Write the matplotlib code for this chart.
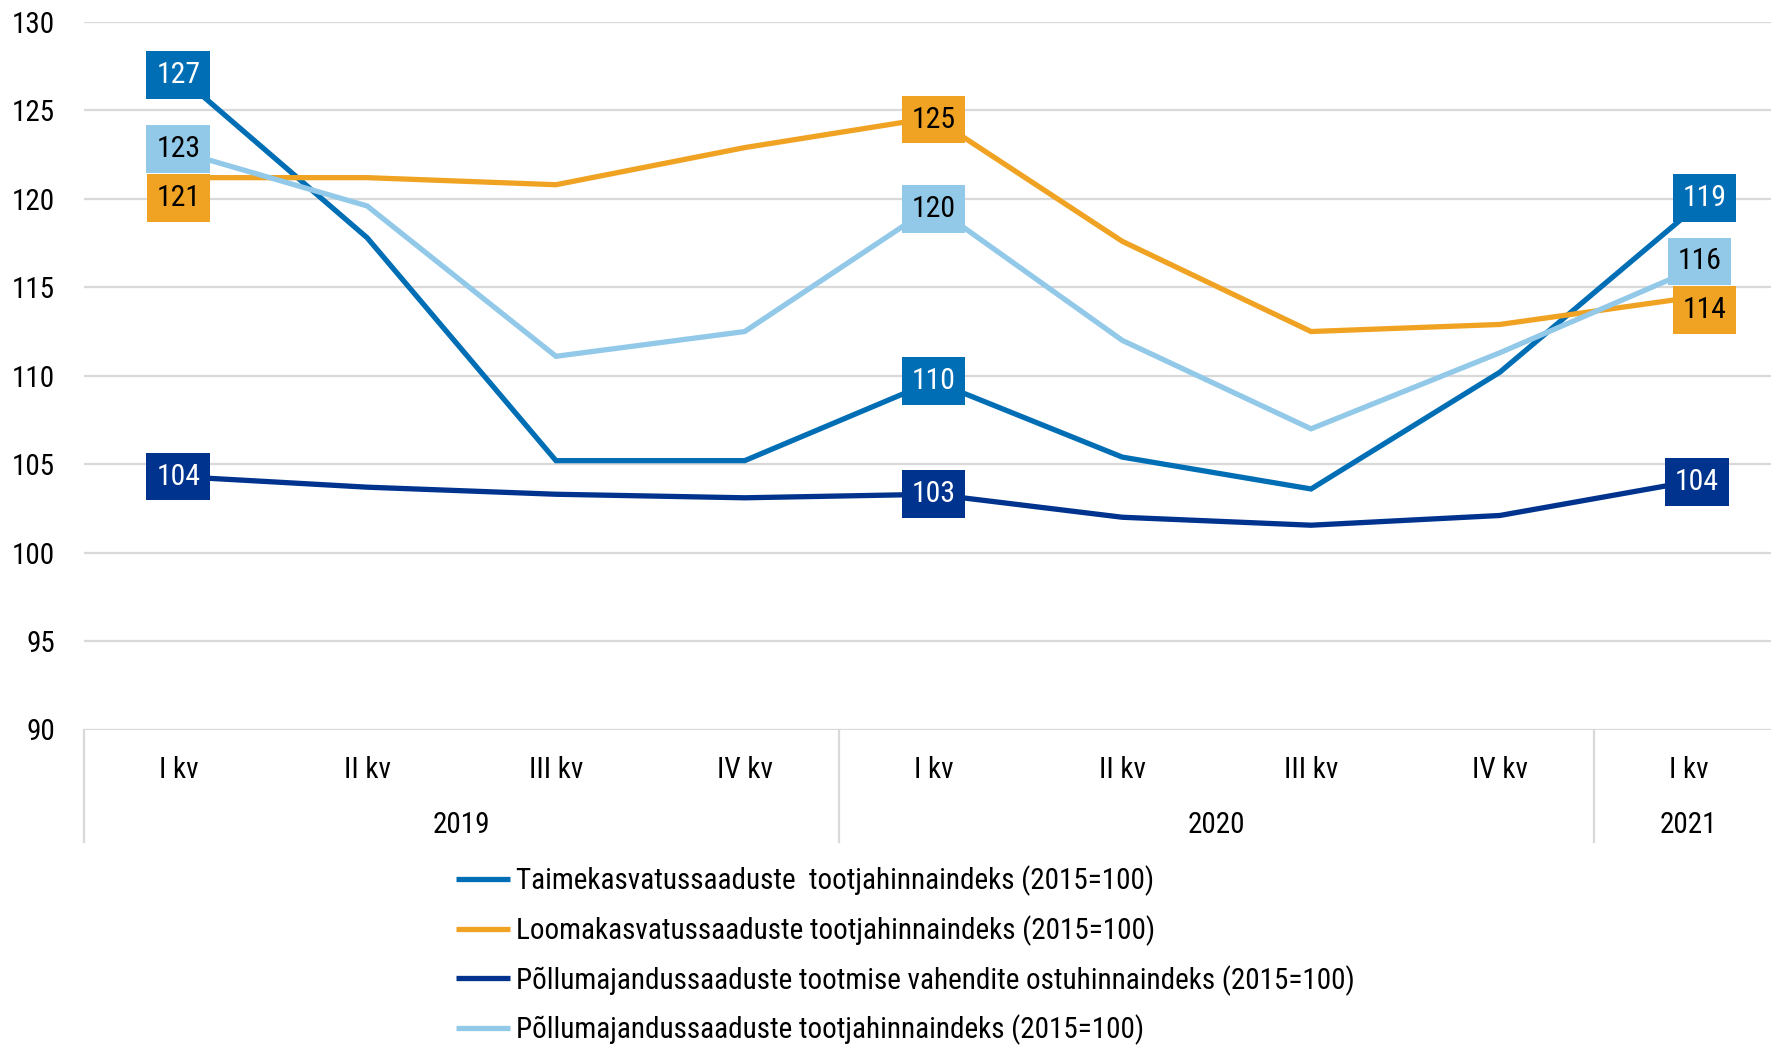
import matplotlib
matplotlib.use("Agg")
import matplotlib.pyplot as plt
import matplotlib.transforms as mtransforms

plt.rcParams['font.family'] = ['Roboto Condensed', 'Roboto', 'DejaVu Sans']

quarters = ["I kv", "II kv", "III kv", "IV kv", "I kv", "II kv", "III kv", "IV kv", "I kv"]
years = ["2019", "2020", "2021"]
year_spans = [(0, 3), (4, 7), (8, 8)]

taime = [127.0, 117.8, 105.2, 105.2, 109.7, 105.4, 103.6, 110.2, 119.2]
looma = [121.2, 121.2, 120.8, 122.9, 124.6, 117.6, 112.5, 112.9, 114.4]
vahendid = [104.3, 103.7, 103.3, 103.1, 103.3, 102.0, 101.55, 102.1, 104.0]
toodang = [122.7, 119.6, 111.1, 112.5, 119.6, 112.0, 107.0, 111.3, 115.9]

series_names = [
    "Taimekasvatussaaduste  tootjahinnaindeks (2015=100)",
    "Loomakasvatussaaduste tootjahinnaindeks (2015=100)",
    "Põllumajandussaaduste tootmise vahendite ostuhinnaindeks (2015=100)",
    "Põllumajandussaaduste tootjahinnaindeks (2015=100)",
]
series = [taime, looma, vahendid, toodang]
colors = ["#006EB5", "#F0A323", "#00338D", "#92C9E8"]
text_colors = ["white", "black", "white", "black"]

# labelled point indices for each series, with pixel offsets (style)
label_idx = [[0, 4, 8], [0, 4, 8], [0, 4, 8], [0, 4, 8]]
label_off = [
    [(0, 0), (0, 0), (16, 15)],
    [(0, -20), (0, -2), (16, -12)],
    [(0, 0), (0, 0), (8, 0)],
    [(0, 2), (0, -3), (11, 10)],
]

W, H = 1771, 1048
fig = plt.figure(figsize=(W / 100, H / 100), dpi=100)
ax_left, ax_right = 84 / W, 1783 / W
ax_top, ax_bot = 1 - 22 / H, 1 - 729.5 / H
ax = fig.add_axes([ax_left, ax_bot, ax_right - ax_left, ax_top - ax_bot])

x = list(range(len(quarters)))
for s, name, c in zip(series, series_names, colors):
    ax.plot(x, s, color=c, lw=3.8, label=name, solid_capstyle='butt', solid_joinstyle='miter', zorder=3)

for s, c, tc, idxs, offs in zip(series, colors, text_colors, label_idx, label_off):
    for i, off in zip(idxs, offs):
        ax.annotate(f"{s[i]:.0f}", (i, s[i]), xytext=off, textcoords='offset pixels',
                    ha='center', va='center', fontsize=21.5, color=tc, zorder=5,
                    bbox=dict(boxstyle='square,pad=0.33', fc=c, ec='none'))

ax.set_xlim(-0.5, len(quarters) - 0.5)
ax.set_ylim(90, 130)
ax.set_yticks(range(90, 131, 5))
ax.grid(axis='y', color='#D9D9D9', lw=1.6, zorder=0)
ax.set_axisbelow(True)
for sp in ax.spines.values():
    sp.set_visible(False)
ax.tick_params(axis='y', length=0, pad=21, labelsize=21, labelcolor='black')
ax.set_xticks(x)
ax.set_xticklabels(quarters)
ax.tick_params(axis='x', length=0, pad=19, labelsize=21, labelcolor='black')

trans = mtransforms.blended_transform_factory(ax.transData, ax.transAxes)
for yr, (a, b) in zip(years, year_spans):
    ax.text((a + b) / 2, -0.135, yr, transform=trans, ha='center', va='center', fontsize=21)
for xs in [-0.5, 3.5, 7.5]:
    ax.plot([xs, xs], [0, -0.159], transform=trans, color='#D9D9D9', lw=1.6, clip_on=False)

leg = ax.legend(loc='upper left', bbox_to_anchor=(456 / W, 1 - 865 / H), bbox_transform=fig.transFigure,
                frameon=False, fontsize=21, handlelength=1.85, handletextpad=0.2,
                labelspacing=0.66, borderaxespad=0, borderpad=0)
for line in leg.get_lines():
    line.set_linewidth(3.8)

fig.savefig("out.png", dpi=100)
